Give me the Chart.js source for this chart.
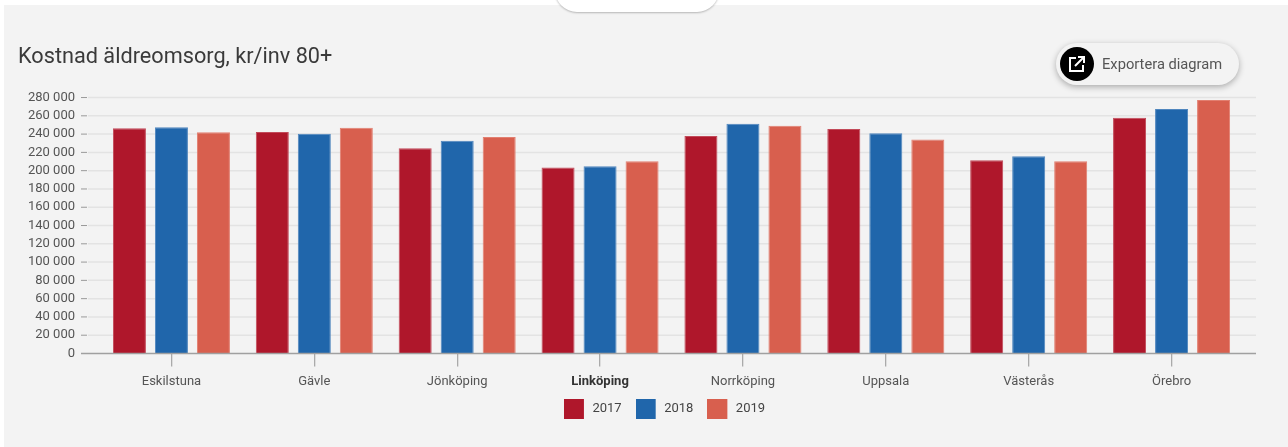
<!DOCTYPE html>
<html><head><meta charset="utf-8">
<style>
html,body{margin:0;padding:0;background:#fff;width:1288px;height:447px;overflow:hidden;font-family:Roboto,sans-serif}
#panel{position:absolute;left:4px;top:5px;width:1284px;height:442px;background:#f3f3f3}
#pill{position:absolute;left:555px;top:-20px;width:164px;height:32px;background:#fff;border-radius:0 0 22px 22px;box-shadow:0 1px 2px rgba(0,0,0,.25)}
#wrap{position:absolute;left:0;top:0;width:1288px;height:447px}
#export{position:absolute;left:1056px;top:43px;width:183px;height:42px;border-radius:21px;background:#f3f3f3;box-shadow:0 2px 6px rgba(0,0,0,.3)}
#export .ic{position:absolute;left:4px;top:4px;width:34px;height:34px;border-radius:17px;background:#000}
#export svg{position:absolute;left:8px;top:8px}
#export .t{position:absolute;left:46px;top:12px;font-size:14.7px;line-height:18px;color:#555;white-space:nowrap}
</style></head><body>
<div id="panel"></div><div id="pill"></div>
<div id="wrap"><canvas id="c" width="1288" height="447"></canvas></div>
<div id="export"><div class="ic"><svg width="18" height="18" viewBox="0 0 18 18" fill="none" stroke="#fff" stroke-width="2"><path d="M8 3H2v13h13v-6"/><path d="M7 11L15.5 2.5M10 2h6v6"/></svg></div><div class="t">Exportera diagram</div></div>
<script src="https://cdn.jsdelivr.net/npm/chart.js@4"></script>
<script>
const categories=["Eskilstuna","Gävle","Jönköping","Linköping","Norrköping","Uppsala","Västerås","Örebro"];
const years=["2017","2018","2019"];
const values2017=[246300,242300,224400,203600,237900,245500,211300,257900];
const values2018=[247400,240400,232800,204700,251400,240800,215700,267400];
const values2019=[241900,247000,236800,210200,249200,234200,210200,277300];
const colors=["#af172b","#2066ab","#d85f4e"];
const edgeColors=["#c24a59","#4f86be","#e27f70"];
const highlighted="Linköping";
const titleText="Kostnad äldreomsorg, kr/inv 80+";

function swatch(color){
  const cv=document.createElement('canvas');cv.width=22;cv.height=20;
  const g=cv.getContext('2d');g.fillStyle=color;g.fillRect(0,0,20,20);return cv;
}
const extendGrid={id:'extendGrid',
afterLayout(chart){chart.legend.left-=7;chart.legend.right-=7;},
beforeDatasetsDraw(chart){
  const {ctx,scales:{y},chartArea:a}=chart;
  ctx.save();
  y.ticks.forEach(t=>{
    const p=y.getPixelForValue(t.value);
    if(t.value!==0){
      ctx.lineWidth=1.5;ctx.strokeStyle='#e3e3e3';ctx.beginPath();ctx.moveTo(a.left-12,p);ctx.lineTo(a.right+13,p);ctx.stroke();
      ctx.lineWidth=1;ctx.strokeStyle='#999';ctx.beginPath();ctx.moveTo(a.left-19,p);ctx.lineTo(a.left-13,p);ctx.stroke();
    }
  });
  ctx.restore();
},afterDatasetsDraw(chart){
  const {ctx,scales:{y},chartArea:a}=chart;
  const p=y.getPixelForValue(0);
  ctx.save();ctx.strokeStyle='#a0a0a0';ctx.lineWidth=1.5;ctx.beginPath();ctx.moveTo(a.left-19,p);ctx.lineTo(a.right+13,p);ctx.stroke();ctx.restore();
}};

new Chart(document.getElementById('c'),{
  type:'bar',
  data:{labels:categories,datasets:[values2017,values2018,values2019].map((d,i)=>({label:years[i],data:d,backgroundColor:colors[i],borderColor:edgeColors[i],borderWidth:1,categoryPercentage:0.882,barPercentage:0.786}))},
  plugins:[extendGrid],
  options:{
    responsive:false,animation:false,
    layout:{padding:{left:18,right:45,top:45,bottom:21.5}},
    plugins:{
      tooltip:{enabled:false},
      title:{display:true,text:titleText,align:'start',color:'#3a3a3a',font:{family:'Roboto',size:21.7,weight:'normal'},padding:{top:0,bottom:26.5}},
      legend:{position:'bottom',fullSize:false,labels:{usePointStyle:true,pointStyleWidth:22,padding:14,color:'#444',font:{family:'Roboto',size:13},
        generateLabels:ch=>ch.data.datasets.map((d,i)=>({text:d.label,fillStyle:colors[i],strokeStyle:colors[i],lineWidth:0,pointStyle:swatch(colors[i]),fontColor:'#444',datasetIndex:i}))}}
    },
    scales:{
      x:{
        afterFit(s){s.height=35;},
        grid:{offset:false,drawOnChartArea:false,color:'#aaa',lineWidth:1.3,tickLength:13,drawTicks:true},
        border:{display:false},
        ticks:{padding:7,maxRotation:0,autoSkip:false,
          color:c=>categories[c.index]===highlighted?'#333':'#555',
          font:c=>({family:'Roboto',size:13,weight:categories[c.index]===highlighted?'bold':'normal'})}
      },
      y:{
        min:0,max:280000,
        afterFit(s){s.width=82;},
        grid:{display:false},
        border:{display:false},
        ticks:{stepSize:20000,autoSkip:false,padding:17,color:'#555',font:{family:'Roboto',size:13},
          callback:v=>String(v).replace(/\B(?=(\d{3})+$)/g,' ')}
      }
    }
  }
});
</script></body></html>
